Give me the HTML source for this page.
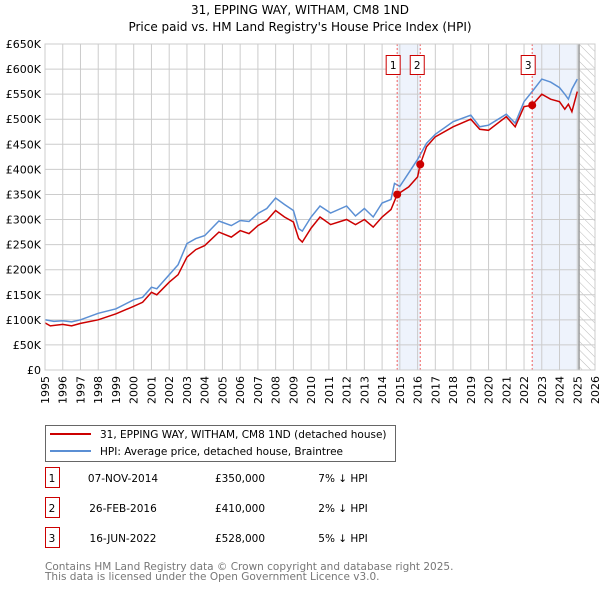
<!DOCTYPE html>
<html><head><meta charset="utf-8"><style>
body{margin:0;background:#fff;font-family:"DejaVu Sans","Liberation Sans",sans-serif;}
svg text{font-family:"DejaVu Sans","Liberation Sans",sans-serif;}
</style></head><body>
<svg id="c" width="600" height="590" viewBox="0 0 600 590" xmlns="http://www.w3.org/2000/svg">
<text x="300" y="14" font-size="12" text-anchor="middle">31, EPPING WAY, WITHAM, CM8 1ND</text>
<text x="300" y="31" font-size="12" text-anchor="middle">Price paid vs. HM Land Registry's House Price Index (HPI)</text>
<defs><pattern id="hatch" width="6" height="6" patternUnits="userSpaceOnUse" patternTransform="rotate(-45)"><line x1="0" y1="0" x2="0" y2="6" stroke="#bbb" stroke-width="1"/></pattern></defs>
<g id="grid"></g><g id="marks"></g><g id="axes"></g>
<g>
<rect x="45.5" y="425.5" width="350" height="36" fill="#fff" stroke="#666"/>
<line x1="50" y1="434" x2="91" y2="434" stroke="#cc0000" stroke-width="2"/>
<text x="100" y="438" font-size="10.5">31, EPPING WAY, WITHAM, CM8 1ND (detached house)</text>
<line x1="50" y1="451" x2="91" y2="451" stroke="#5b8fd4" stroke-width="2"/>
<text x="100" y="455" font-size="10.5">HPI: Average price, detached house, Braintree</text>
</g>
<g id="table" font-size="10.5"></g>
<text x="45" y="570" font-size="10.5" fill="#777">Contains HM Land Registry data © Crown copyright and database right 2025.</text>
<text x="45" y="580" font-size="10.5" fill="#777">This data is licensed under the Open Government Licence v3.0.</text>
</svg>
<script>
const hpiYears=[1995,1995.5,1996,1996.5,1997,1998,1999,2000,2000.5,2001,2001.3,2002,2002.5,2003,2003.5,2004,2004.8,2005.5,2006,2006.5,2007,2007.5,2008,2008.5,2009,2009.3,2009.5,2010,2010.5,2011.1,2012,2012.5,2013,2013.5,2014,2014.5,2014.7,2015,2015.5,2016,2016.5,2017,2018,2019,2019.5,2020,2021,2021.5,2022,2022.5,2023,2023.5,2024,2024.3,2024.5,2024.7,2025];
const hpiValues=[100000,97000,98000,96000,100000,113000,122000,140000,145000,165000,162000,190000,210000,252000,262000,268000,297000,288000,298000,296000,312000,322000,343000,330000,318000,282000,277000,305000,327000,313000,327000,307000,322000,305000,333000,340000,372000,366000,393000,420000,452000,470000,495000,508000,485000,488000,510000,492000,535000,557000,580000,574000,563000,550000,540000,560000,580000];
const ppdYears=[1995,1995.3,1996,1996.5,1997,1998,1999,2000,2000.5,2001,2001.3,2002,2002.5,2003,2003.5,2004,2004.8,2005.5,2006,2006.5,2007,2007.5,2008,2008.5,2009,2009.3,2009.5,2010,2010.5,2011.1,2012,2012.5,2013,2013.5,2014,2014.5,2014.85,2015.5,2016,2016.15,2016.5,2017,2018,2019,2019.5,2020,2021,2021.5,2022,2022.45,2023,2023.5,2024,2024.3,2024.5,2024.7,2025];
const ppdValues=[94000,88000,91000,88000,93000,100000,112000,127000,135000,155000,150000,175000,190000,225000,240000,248000,275000,265000,278000,272000,288000,298000,318000,305000,295000,262000,255000,283000,305000,290000,300000,290000,300000,285000,305000,320000,350000,365000,385000,410000,445000,465000,485000,500000,480000,478000,505000,485000,525000,528000,550000,540000,535000,520000,530000,515000,555000];
const saleYears=[2014.85,2016.15,2022.46];
const saleValues=[350000,410000,528000];
const saleLabels=["1","2","3"];
const saleDates=["07-NOV-2014","26-FEB-2016","16-JUN-2022"];
const salePrices=["£350,000","£410,000","£528,000"];
const saleDiffs=["7% ↓ HPI","2% ↓ HPI","5% ↓ HPI"];
const yTicks=[0,50000,100000,150000,200000,250000,300000,350000,400000,450000,500000,550000,600000,650000];
const yTickLabels=["£0","£50K","£100K","£150K","£200K","£250K","£300K","£350K","£400K","£450K","£500K","£550K","£600K","£650K"];
const xTicks=[1995,1996,1997,1998,1999,2000,2001,2002,2003,2004,2005,2006,2007,2008,2009,2010,2011,2012,2013,2014,2015,2016,2017,2018,2019,2020,2021,2022,2023,2024,2025,2026];

const X0=45,X1=595,Y0=370,Y1=44;
const sx=y=>X0+(y-1995)/(2026-1995)*(X1-X0);
const sy=v=>Y0-v/650000*(Y0-Y1);
const NS="http://www.w3.org/2000/svg";
function mk(parent,tag,attrs){const e=document.createElementNS(NS,tag);for(const k in attrs)e.setAttribute(k,attrs[k]);document.getElementById(parent).appendChild(e);return e;}
let r=mk('grid','rect',{x:sx(2014.85),y:Y1,width:sx(2016.15)-sx(2014.85),height:Y0-Y1,fill:'#eef3fc'});


r=mk('grid','rect',{x:sx(2022.46),y:Y1,width:sx(2025.1)-sx(2022.46),height:Y0-Y1,fill:'#eef3fc'});


r=mk('grid','rect',{x:sx(2025.1),y:Y1,width:X1-sx(2025.1),height:Y0-Y1,fill:'url(#hatch)'});


yTicks.forEach((v,i)=>{
 const l=mk('grid','line',{x1:X0,x2:X1,y1:sy(v),y2:sy(v),stroke:'#ccc'});
 
 
 const t=mk('axes','text',{x:X0-4,y:sy(v)+4,'font-size':'11','text-anchor':'end'});
 
 
 t.textContent=yTickLabels[i];
});
xTicks.forEach(y=>{
 const l=mk('grid','line',{x1:sx(y),x2:sx(y),y1:Y1,y2:Y0,stroke:'#ccc'});
 
 
 const t=mk('axes','text',{x:0,y:0,'font-size':'11','text-anchor':'end',transform:`translate(${sx(y)+4},${Y0+6}) rotate(-90)`});
 
 
 t.textContent=y;
});
let vl=mk('grid','line',{x1:sx(2025.1),x2:sx(2025.1),y1:Y1,y2:Y0,stroke:'#999','stroke-width':1.5});


let fr=mk('axes','rect',{x:X0,y:Y1,width:X1-X0,height:Y0-Y1,fill:'none',stroke:'#ccc'});


const path=(xs,vs)=>xs.map((x,i)=>(i?'L':'M')+sx(x).toFixed(1)+','+sy(vs[i]).toFixed(1)).join('');
let p=mk('marks','path',{d:path(hpiYears,hpiValues),fill:'none',stroke:'#5b8fd4','stroke-width':1.5});


p=mk('marks','path',{d:path(ppdYears,ppdValues),fill:'none',stroke:'#cc0000','stroke-width':1.5});


const badgeOffsets=[-11,-10,-11];
saleYears.forEach((y,i)=>{
 const l=mk('marks','line',{x1:sx(y),x2:sx(y),y1:Y1,y2:Y0,stroke:'#f06060','stroke-dasharray':'2,2'});
 
 
 const c=mk('marks','circle',{cx:sx(y),cy:sy(saleValues[i]),r:4,fill:'#cc0000'});
 
 
 const bx=sx(y)+badgeOffsets[i];
 const b=mk('marks','rect',{x:bx,y:55.5,width:14,height:19,fill:'#fff',stroke:'#cc0000'});
 
 
 const t=mk('marks','text',{x:bx+7,y:69,'font-size':'10.5','text-anchor':'middle'});
 
 
 t.textContent=saleLabels[i];
});
saleLabels.forEach((s,i)=>{
 const yy=483+i*30;
 const b=mk('table','rect',{x:45.5,y:yy-15.5,width:14,height:20,fill:'#fff',stroke:'#cc0000'});
 
 
 const cols=[[52,s,'middle'],[123,saleDates[i],'middle'],[240,salePrices[i],'middle'],[343,saleDiffs[i],'middle']];
 cols.forEach(c=>{
  const t=mk('table','text',{x:c[0],y:yy-1,'text-anchor':c[2]});
  
  
  t.textContent=c[1];
 });
});
</script>
</body></html>
